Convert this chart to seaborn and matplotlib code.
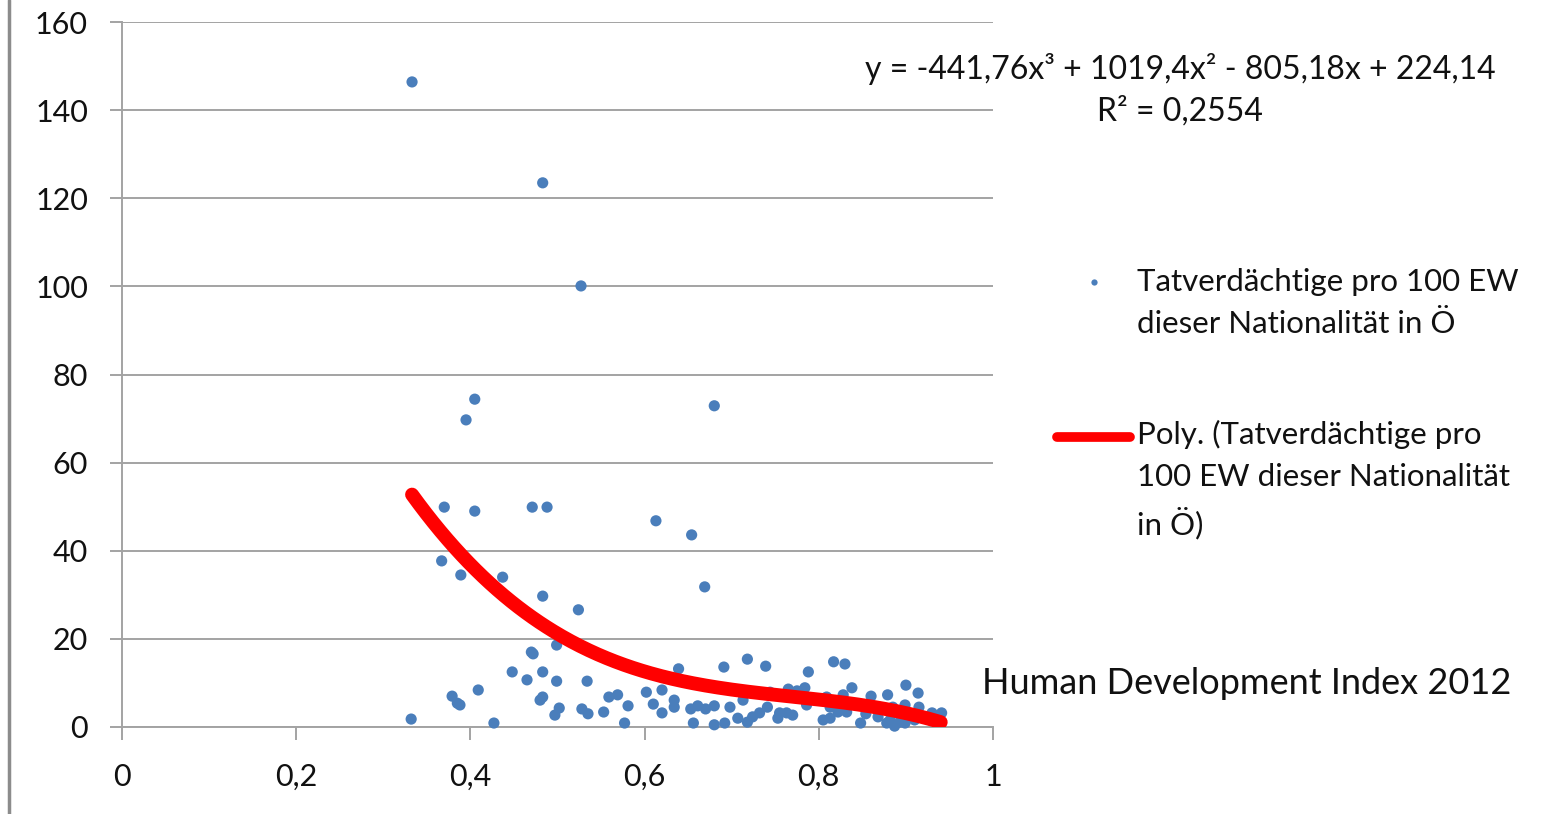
import matplotlib
matplotlib.use("Agg")
import matplotlib.pyplot as plt
from matplotlib.legend_handler import HandlerLine2D
from matplotlib.lines import Line2D
from matplotlib.ticker import FuncFormatter
import numpy as np
import seaborn as sns

# Human Development Index 2012 per nationality
hdi = [0.333, 0.483, 0.527, 0.405, 0.395, 0.680, 0.370, 0.405, 0.471, 0.488,
       0.613, 0.654, 0.669, 0.367, 0.389, 0.437, 0.483, 0.524, 0.499, 0.470,
       0.472, 0.448, 0.465, 0.483, 0.499, 0.534, 0.379, 0.385, 0.388, 0.409,
       0.332, 0.427, 0.480, 0.483, 0.502, 0.497, 0.528, 0.535, 0.553, 0.559,
       0.569, 0.581, 0.577, 0.602, 0.610, 0.620, 0.620, 0.639, 0.634, 0.634,
       0.653, 0.661, 0.670, 0.656, 0.680, 0.680, 0.691, 0.692, 0.698, 0.718,
       0.739, 0.713, 0.707, 0.718, 0.724, 0.732, 0.741, 0.744, 0.755, 0.763,
       0.770, 0.753, 0.765, 0.775, 0.784, 0.788, 0.786, 0.805, 0.813, 0.809,
       0.813, 0.822, 0.832, 0.817, 0.830, 0.828, 0.838, 0.848, 0.854, 0.860,
       0.868, 0.878, 0.882, 0.887, 0.893, 0.899, 0.879, 0.885, 0.899, 0.900,
       0.914, 0.915, 0.930, 0.941, 0.910]

# Tatverdaechtige pro 100 EW dieser Nationalitaet in Oe
suspects = [146.4, 123.5, 100.1, 74.4, 69.7, 72.9, 49.9, 49.0, 49.9, 49.9,
            46.8, 43.6, 31.8, 37.7, 34.5, 34.0, 29.7, 26.6, 18.6, 17.0,
            16.6, 12.5, 10.7, 12.5, 10.4, 10.4, 7.0, 5.4, 5.0, 8.4,
            1.8, 0.9, 6.1, 6.8, 4.3, 2.7, 4.1, 3.0, 3.4, 6.8,
            7.3, 4.8, 0.9, 7.9, 5.2, 8.4, 3.2, 13.2, 6.1, 4.5,
            4.1, 4.8, 4.1, 0.9, 4.8, 0.5, 13.6, 0.9, 4.5, 15.4,
            13.8, 6.1, 2.0, 1.1, 2.3, 3.2, 4.5, 7.9, 3.2, 3.2,
            2.7, 2.0, 8.6, 8.2, 8.9, 12.5, 5.0, 1.6, 2.0, 6.8,
            4.5, 3.4, 3.4, 14.8, 14.3, 7.3, 8.9, 0.9, 3.0, 7.0,
            2.3, 0.9, 1.6, 0.2, 1.1, 0.9, 7.3, 4.5, 5.0, 9.5,
            7.7, 4.5, 3.2, 3.2, 1.6]

# polynomial trendline as printed on the chart
poly_coef = [-441.76, 1019.4, -805.18, 224.14]
trend_start, trend_end = 0.333, 0.94

x_ticks = [0, 0.2, 0.4, 0.6, 0.8, 1]
y_ticks = [0, 20, 40, 60, 80, 100, 120, 140, 160]

scatter_label = "Tatverdächtige pro 100 EW\ndieser Nationalität in Ö"
trend_label = "Poly. (Tatverdächtige pro\n100 EW dieser Nationalität\nin Ö)"
equation = "y = -441,76x³ + 1019,4x² - 805,18x + 224,14\nR² = 0,2554"

dot_col = "#4a7ebb"
line_col = "#ff0000"
grid_col = "#a3a3a3"
text_col = "#111111"
leg_size = 22.5
leg_line_pt = 31  # distance between legend text lines in points


class FirstLineHandler(HandlerLine2D):
    # Excel puts the legend symbol next to the first line of a wrapped label
    def __init__(self, shift, **kw):
        super().__init__(**kw)
        self.shift = shift

    def create_artists(self, legend, orig_handle, xdescent, ydescent, width,
                       height, fontsize, trans):
        artists = super().create_artists(legend, orig_handle, xdescent, ydescent,
                                         width, height, fontsize, trans)
        for a in artists:
            a.set_ydata(np.asarray(a.get_ydata(), dtype=float) + self.shift)
        return artists


sns.set_style("white")
plt.rcParams["font.family"] = ["Lato", "DejaVu Sans"]

fig = plt.figure(figsize=(15.42, 8.14), dpi=100)
ax = fig.add_axes([122 / 1542, 1 - 727 / 814, 871 / 1542, 705 / 814])

sns.scatterplot(x=hdi, y=suspects, color=dot_col, s=65, edgecolor="none",
                ax=ax, clip_on=False, zorder=3, legend=False)

trend_x = np.linspace(trend_start, trend_end, 300)
trend_y = np.polyval(poly_coef, trend_x)
sns.lineplot(x=trend_x, y=trend_y, color=line_col, lw=10, ax=ax,
             zorder=4, solid_capstyle="round", legend=False)

ax.set_xlim(0, 1)
ax.set_ylim(0, 160)
ax.set_xticks(x_ticks)
ax.set_yticks(y_ticks)
ax.xaxis.set_major_formatter(FuncFormatter(lambda v, p: f"{v:g}".replace(".", ",")))
ax.yaxis.grid(True, color=grid_col, lw=1.4)
ax.set_axisbelow(True)

for side in ["top", "right"]:
    ax.spines[side].set_visible(False)
for side in ["left", "bottom"]:
    ax.spines[side].set_color(grid_col)
    ax.spines[side].set_linewidth(1.4)

ax.tick_params(axis="both", direction="out", length=9, width=1.4, color=grid_col,
               labelsize=22, labelcolor=text_col)
ax.tick_params(axis="y", pad=15.5, left=True)
ax.tick_params(axis="x", pad=17, bottom=True)

ax.set_ylabel("")
ax.set_xlabel("Human Development Index 2012", fontsize=26, color=text_col,
              ha="left", va="center")
ax.xaxis.set_label_coords((982 - 122) / 871, (727 - 683) / 705)

dot_handle = Line2D([], [], ls="", marker="o", markersize=4.5,
                    color=dot_col, markeredgewidth=0)
line_handle = Line2D([], [], color=line_col, lw=7, solid_capstyle="round")
leg = fig.legend([dot_handle, line_handle], [scatter_label, trend_label],
                 loc="upper left", bbox_to_anchor=(1057 / 1542, 1 - 268 / 814),
                 frameon=False, fontsize=leg_size, handlelength=2.34,
                 handletextpad=0.22, labelspacing=2.62, borderpad=0,
                 borderaxespad=0,
                 handler_map={dot_handle: FirstLineHandler(0.5 * leg_line_pt),
                              line_handle: FirstLineHandler(1.0 * leg_line_pt)})
for t in leg.get_texts():
    t.set_linespacing(1.6)
    t.set_color(text_col)

fig.text(1180 / 1542, 1 - 90 / 814, equation, ha="center", va="center",
         fontsize=23, color=text_col, linespacing=1.45)

# grey border on the left edge of the picture
fig.add_artist(Line2D([0.006, 0.006], [0, 1], transform=fig.transFigure,
                      color="#8c8c8c", lw=2.5))

fig.savefig("out.png", dpi=100)
